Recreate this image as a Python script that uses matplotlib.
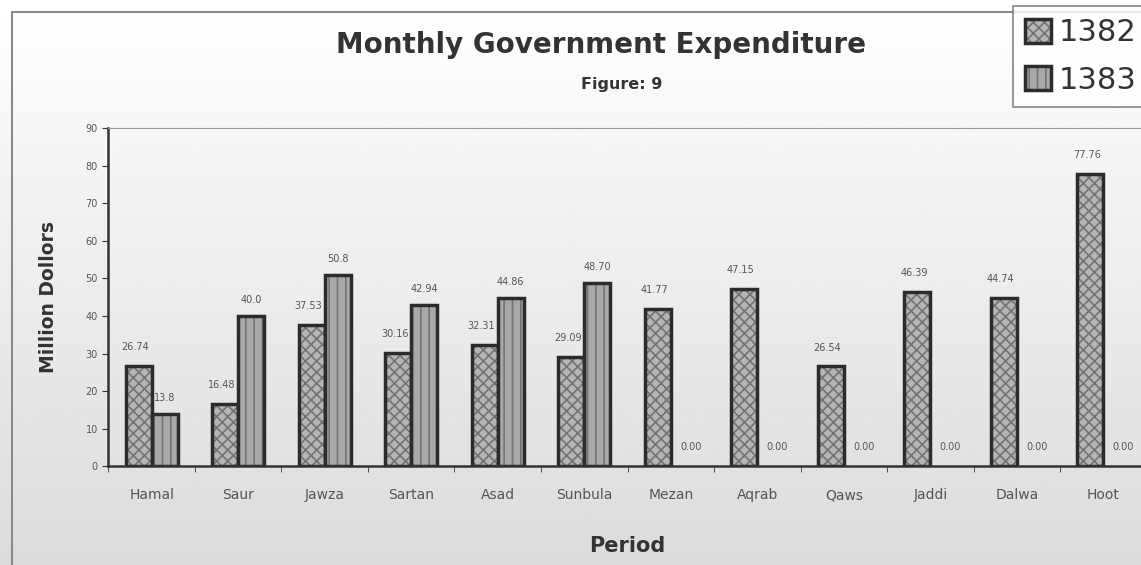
import numpy as np
import matplotlib.pyplot as plt
from matplotlib.patches import Rectangle

# Monthly figures, million dollars
months = ['Hamal', 'Saur', 'Jawza', 'Sartan', 'Asad', 'Sunbula',
          'Mezan', 'Aqrab', 'Qaws', 'Jaddi', 'Dalwa', 'Hoot']
exp_1382 = [26.74, 16.48, 37.53, 30.16, 32.31, 29.09,
            41.77, 47.15, 26.54, 46.39, 44.74, 77.76]
exp_1383 = [13.8, 40.0, 50.8, 42.94, 44.86, 48.70,
            0.0, 0.0, 0.0, 0.0, 0.0, 0.0]
labels_1382 = ['26.74', '16.48', '37.53', '30.16', '32.31', '29.09',
               '41.77', '47.15', '26.54', '46.39', '44.74', '77.76']
labels_1383 = ['13.8', '40.0', '50.8', '42.94', '44.86', '48.70',
               '0.00', '0.00', '0.00', '0.00', '0.00', '0.00']

plt.rcParams['hatch.linewidth'] = 1.2
fig = plt.figure(figsize=(11.41, 5.65), dpi=100)

# soft grey background fading towards the bottom
bg = fig.add_axes([0, 0, 1, 1], zorder=-10)
grad = np.linspace(1.0, 0.86, 256).reshape(-1, 1)
bg.imshow(grad, aspect='auto', cmap='gray', vmin=0, vmax=1, extent=[0, 1, 0, 1])
bg.set_axis_off()
fig.patches.append(Rectangle((12 / 1141, -0.05), 1.1, 1 - 12 / 565 + 0.05,
                             transform=fig.transFigure, fill=False,
                             edgecolor='#8a8a8a', lw=1.5, zorder=-5))

ax = fig.add_axes([0.095, 0.175, 0.91, 0.598])
ax.patch.set_alpha(0)
x = np.arange(len(months))
w = 0.3
b1 = ax.bar(x - w / 2, exp_1382, w, color='#b5b5b5', edgecolor='#2b2b2b',
            linewidth=2.5, hatch='xxx', label='1382')
b2 = ax.bar(x + w / 2, exp_1383, w, color='#a8a8a8', edgecolor='#2b2b2b',
            linewidth=2.5, hatch='||', label='1383')
for bars in (b1, b2):
    for p in bars:
        p._hatch_color = (0.45, 0.45, 0.45, 1)
        if p.get_height() == 0:
            p.set_linewidth(0)

for xi, v, t in zip(x, exp_1382, labels_1382):
    ax.annotate(t, (xi - w / 2 - 0.04, v), xytext=(0, 10), textcoords='offset points',
                ha='center', va='bottom', fontsize=7, color='#555555')
for xi, v, t in zip(x, exp_1383, labels_1383):
    dx = 0.08 if v == 0 else 0.0
    ax.annotate(t, (xi + w / 2 + dx, v), xytext=(0, 8 if v else 10),
                textcoords='offset points', ha='center', va='bottom',
                fontsize=7, color='#555555')

ax.set_xlim(-0.5, 11.5)
ax.set_ylim(0, 90)
ax.set_yticks(range(0, 91, 10))
ax.set_xticks(x)
ax.set_xticklabels(months, fontsize=10, color='#555555')
ax.set_xticks(np.arange(-0.5, 12, 1), minor=True)
ax.tick_params(axis='x', which='major', length=0, pad=16)
ax.tick_params(axis='x', which='minor', length=4, color='#333333')
ax.tick_params(axis='y', labelsize=7, labelcolor='#555555', length=4, color='#333333')
ax.spines['right'].set_visible(False)
ax.spines['top'].set_color('#999999')
ax.spines['left'].set_linewidth(1.8)
ax.spines['left'].set_color('#333333')
ax.spines['bottom'].set_linewidth(1.8)
ax.spines['bottom'].set_color('#333333')

ax.set_ylabel('Million Dollors', fontsize=13.5, fontweight='bold', color='#333333', labelpad=20)
ax.set_xlabel('Period', fontsize=15, fontweight='bold', color='#333333', labelpad=24)

fig.text(0.527, 0.92, 'Monthly Government Expenditure', ha='center', va='center',
         fontsize=20, fontweight='bold', color='#333333')
fig.text(0.545, 0.85, 'Figure: 9', ha='center', va='center',
         fontsize=11.5, fontweight='bold', color='#333333')

leg = fig.legend(handles=[b1, b2], loc='upper right', bbox_to_anchor=(1.012, 1.0),
                 fontsize=22, frameon=True, fancybox=False, handlelength=0.85,
                 handleheight=0.85, handletextpad=0.25, borderpad=0.4,
                 labelspacing=0.6, borderaxespad=0.2)
leg.get_frame().set_edgecolor('#666666')
leg.get_frame().set_linewidth(1.2)
leg.get_frame().set_facecolor('white')
for t in leg.get_texts():
    t.set_color('#333333')

fig.savefig('out.png', dpi=100)
